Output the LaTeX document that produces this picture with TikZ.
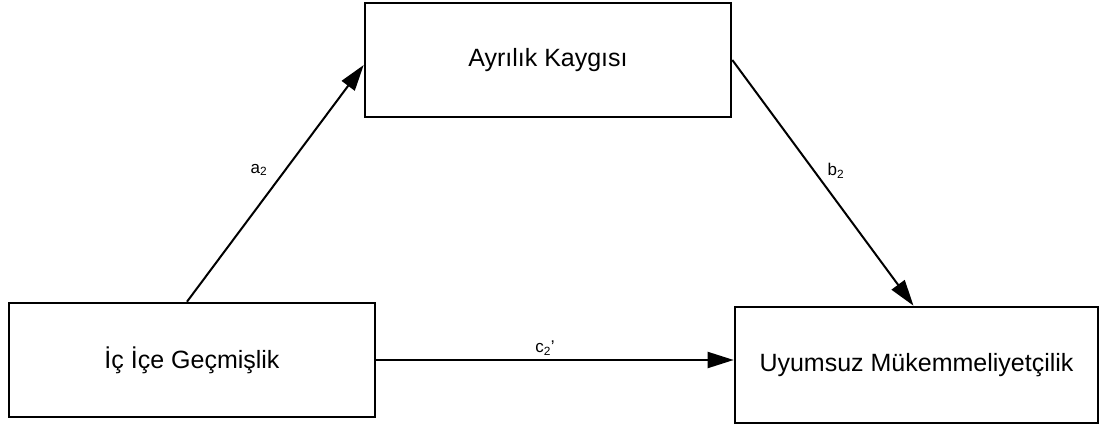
\documentclass[tikz,border=0pt]{standalone}
\usepackage{fontspec}
\setmainfont{Liberation Sans}
\usetikzlibrary{arrows.meta,calc}
\tikzset{
  vbox/.style={draw=black, line width=2.6pt, fill=white, minimum width=#1, inner sep=0pt, font=\fontsize{25}{30}\selectfont},
  conn/.style={line width=2pt, -{Triangle[length=26pt,width=16pt]}},
  lbl/.style={font=\fontsize{17}{20}\selectfont, inner sep=0pt}
}
\begin{document}
\begin{tikzpicture}[x=1pt,y=-1pt]
\useasboundingbox (0,0) rectangle (1103,427);
\node[vbox=366pt, minimum height=114pt] (T) at (548,60) {Ayrılık Kaygısı};
\node[vbox=366pt, minimum height=114pt] (L) at (192,360) {İç İçe Geçmişlik};
\node[vbox=363pt, minimum height=116pt] (R) at (916.5,365) {Uyumsuz Mükemmeliyetçilik};
\draw[conn] ([xshift=-5pt]L.north) -- ([yshift=-5pt]T.west);
\draw[conn] (T.east) -- ([xshift=-3pt]R.north);
\draw[conn] (L.east) -- (L.east -| R.west);
\node[lbl] (la) at (259,170) {a\textsubscript{2}};
\node[lbl] (lb) at (836,171) {b\textsubscript{2}};
\node[lbl] (lc) at (545,348) {c\textsubscript{2}'};
\end{tikzpicture}
\end{document}
